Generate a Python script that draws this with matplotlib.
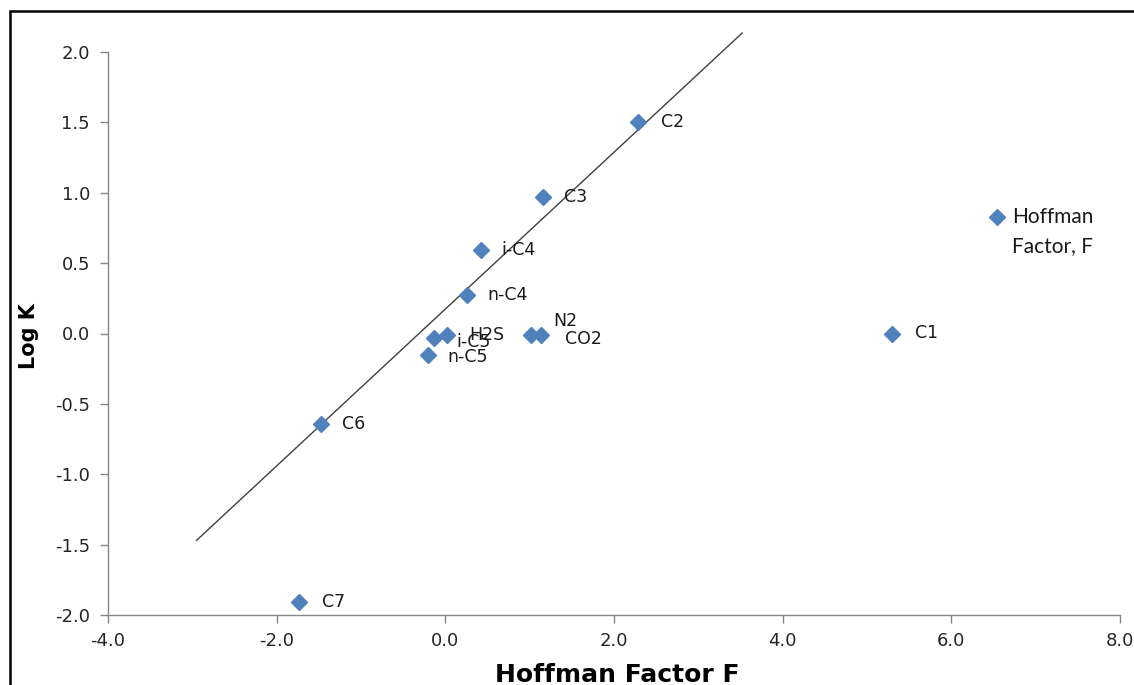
import matplotlib
matplotlib.use("Agg")
import matplotlib.pyplot as plt
from matplotlib.patches import Rectangle
from matplotlib.lines import Line2D

plt.rcParams['font.family'] = ['DejaVu Sans']

components = ["C1", "C2", "C3", "i-C4", "n-C4", "i-C5", "n-C5", "C6", "C7", "N2", "CO2", "H2S"]
hoffman_f = [5.30, 2.29, 1.16, 0.42, 0.26, -0.14, -0.21, -1.48, -1.74, 1.01, 1.13, 0.02]
log_k = [0.00, 1.50, 0.97, 0.59, 0.27, -0.03, -0.15, -0.64, -1.91, -0.01, -0.01, -0.01]

# label offsets in pixels (dx, dy)
label_offsets = {
    "C1": (23, 0), "C2": (23, 0), "C3": (21, 0), "i-C4": (21, 0), "n-C4": (20, 0),
    "i-C5": (23, -4), "n-C5": (20, -2), "C6": (21, 0), "C7": (23, 0),
    "N2": (23, 14), "CO2": (24, -4), "H2S": (22, 0),
}

line_x = [-2.95, 3.52]
line_y = [-1.47, 2.135]

xticks = [-4, -2, 0, 2, 4, 6, 8]
yticks = [-2.0, -1.5, -1.0, -0.5, 0.0, 0.5, 1.0, 1.5, 2.0]

W, H = 1134, 685
fig = plt.figure(figsize=(W / 100, H / 100), dpi=100)
ax = fig.add_axes([108 / W, 1 - 615 / H, (1120 - 108) / W, (615 - 52) / H])

blue = "#4F81BD"
ax.plot(line_x, line_y, color="#404040", lw=1.0, clip_on=False, zorder=2)
ax.plot(hoffman_f, log_k, linestyle="none", marker="D", markersize=8,
        color=blue, markeredgecolor=blue, clip_on=False, zorder=3)

for name, x, y in zip(components, hoffman_f, log_k):
    dx, dy = label_offsets[name]
    ax.annotate(name, (x, y), xytext=(dx * 0.72, dy * 0.72), textcoords="offset points",
                ha="left", va="center", fontsize=12.5, color="#1a1a1a", zorder=4)

ax.set_xlim(-4, 8)
ax.set_ylim(-2, 2)
ax.set_xticks(xticks)
ax.set_yticks(yticks)
ax.set_xticklabels([f"{v:.1f}" for v in xticks])
ax.set_yticklabels([f"{v:.1f}" for v in yticks])
for s in ["top", "right"]:
    ax.spines[s].set_visible(False)
for s in ["left", "bottom"]:
    ax.spines[s].set_color("#868686")
    ax.spines[s].set_linewidth(1.0)
ax.tick_params(axis="both", direction="out", length=6, width=1.0, color="#868686",
               labelsize=13, labelcolor="#262626")
ax.tick_params(axis="y", pad=7)
ax.tick_params(axis="x", pad=6)

ax.set_xlabel("Hoffman Factor F", fontsize=18, fontweight="bold", va="baseline")
ax.xaxis.set_label_coords(0.503, (615 - 682) / 563)
ax.set_ylabel("Log K", fontsize=15, fontweight="bold", va="center")
ax.yaxis.set_label_coords((29 - 108) / 1012, (615 - 336) / 563)

# legend (single series)
fig.add_artist(Line2D([997 / W], [1 - 217 / H], transform=fig.transFigure, marker="D",
                      markersize=8, color=blue, linestyle="none"))
fig.text(1012 / W, 1 - 217 / H, "Hoffman", fontsize=15, family=["Lato", "DejaVu Sans"],
         va="center", ha="left", color="#1a1a1a")
fig.text(1012 / W, 1 - 246 / H, "Factor, F", fontsize=15, family=["Lato", "DejaVu Sans"],
         va="center", ha="left", color="#1a1a1a")

fig.patches.append(Rectangle((10 / W, -0.1), 1.2, 1 - 11 / H + 0.1, transform=fig.transFigure,
                             fill=False, edgecolor="black", linewidth=1.8, zorder=10))

fig.savefig("out.png", dpi=100)
